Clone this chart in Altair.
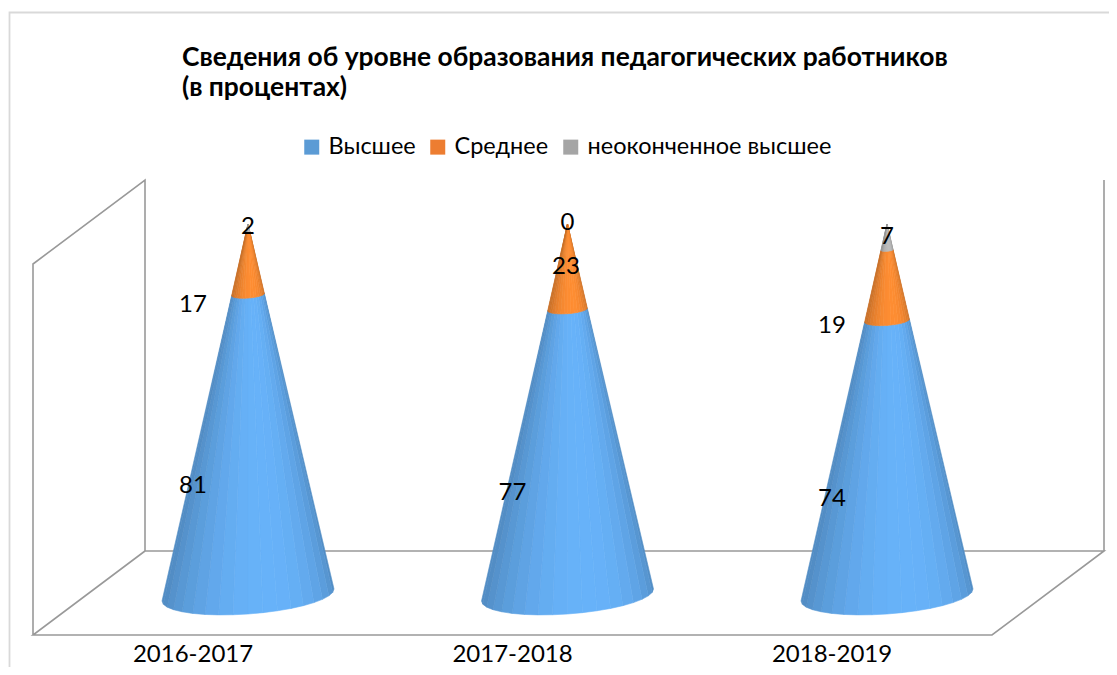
import math
import altair as alt
import pandas as pd

periods = ["2016-2017", "2017-2018", "2018-2019"]
series = ["Высшее", "Среднее", "неоконченное высшее"]
higher = [81, 77, 74]
secondary = [17, 23, 19]
incomplete = [2, 0, 7]
swatch = ["#5B9BD5", "#ED7D31", "#A5A5A5"]
lit = ["#68B3FA", "#FF8E33", "#BDBDBD"]

label_dx = [[-0.172, -0.172, 0.0], [-0.172, -0.005, 0.0], [-0.172, -0.172, 0.0]]
label_v = [[29.4, 78.2, 99.3], [27.6, 88.3, 100.3], [25.9, 72.5, 96.5]]

FONT = "Lato"
N = 18
PX_X, PX_Y = 319.5, 3.71
CX0, CY0 = 248.0, 595.0
W, H = 1101, 659


def dx(px):
    return (px - CX0) / PX_X


def dv(py):
    return (CY0 - py) / PX_Y


xs = alt.Scale(domain=[dx(8), dx(8 + W)], range=[0, W], nice=False, zero=False)
ys = alt.Scale(domain=[dv(8 + H), dv(8)], range=[H, 0], nice=False, zero=False)


def shade(hexcol, f):
    r, g, b = [int(hexcol[i:i + 2], 16) for i in (1, 3, 5)]
    return "#%02x%02x%02x" % (int(r * f), int(g * f), int(b * f))


def rim(i, level, theta):
    r = 1 - level / 100.0
    return (
        i + r * (86 / PX_X) * math.cos(theta),
        level + r * (6 * math.cos(theta) - 19 * math.sin(theta)) / PX_Y,
    )


rows = []
sid = 0
for i in range(3):
    levels = [0, higher[i], higher[i] + secondary[i], higher[i] + secondary[i] + incomplete[i]]
    for s in range(3):
        if levels[s + 1] == levels[s]:
            continue
        for k in range(N):
            a0 = math.pi * k / N
            a1 = math.pi * (k + 1) / N
            mid = (a0 + a1) / 2
            lo = 0.72 if math.cos(mid) > 0 else 0.79
            f = lo + (1 - lo) * max(0.0, math.cos(mid - math.pi * 0.42)) ** 1.2
            col = shade(lit[s], f)
            corners = [rim(i, levels[s], a0), rim(i, levels[s], a1), rim(i, levels[s + 1], a1), rim(i, levels[s + 1], a0)]
            for o, (x, y) in enumerate(corners):
                rows.append({"x": x, "y": y, "o": o, "id": sid, "c": col})
            sid += 1
cones = pd.DataFrame(rows)

cone_layer = alt.Chart(cones).mark_line(strokeWidth=0.6, interpolate="linear-closed").encode(
    x=alt.X("x:Q", scale=xs, axis=None),
    y=alt.Y("y:Q", scale=ys, axis=None),
    order="o:Q",
    detail="id:N",
    color=alt.Color("c:N", scale=None),
    fill=alt.Fill("c:N", scale=None),
)

# wall and floor outline
frame_paths = [
    [(33, 635), (33, 264), (145, 180), (145, 551), (33, 635), (992, 635), (1104, 551), (145, 551)],
    [(1104, 551), (1104, 180)],
]
rows = []
for n, p in enumerate(frame_paths):
    for o, (a, b) in enumerate(p):
        rows.append({"x": dx(a), "y": dv(b), "o": o, "id": n})
frame = alt.Chart(pd.DataFrame(rows)).mark_line(color="#999999", strokeWidth=1.6).encode(
    x=alt.X("x:Q", scale=xs, axis=None),
    y=alt.Y("y:Q", scale=ys, axis=None),
    order="o:Q",
    detail="id:N",
)

border_rows = [
    {"x": dx(9.5), "y": dv(667), "o": 0},
    {"x": dx(9.5), "y": dv(12.5), "o": 1},
    {"x": dx(1109), "y": dv(12.5), "o": 2},
]
border = alt.Chart(pd.DataFrame(border_rows)).mark_line(color="#D9D9D9", strokeWidth=1.8).encode(
    x=alt.X("x:Q", scale=xs, axis=None),
    y=alt.Y("y:Q", scale=ys, axis=None),
    order="o:Q",
)

rows = []
for i in range(3):
    vals = [higher[i], secondary[i], incomplete[i]]
    for s in range(3):
        rows.append({"x": i + label_dx[i][s], "y": label_v[i][s], "t": str(vals[s])})
labels = alt.Chart(pd.DataFrame(rows)).mark_text(fontSize=24, font=FONT, color="#000000").encode(
    x=alt.X("x:Q", scale=xs, axis=None),
    y=alt.Y("y:Q", scale=ys, axis=None),
    text="t:N",
)

cats = alt.Chart(pd.DataFrame({"x": [-0.172, 0.828, 1.828], "y": [dv(655)] * 3, "t": periods})).mark_text(
    fontSize=24, font=FONT, color="#000000"
).encode(
    x=alt.X("x:Q", scale=xs, axis=None),
    y=alt.Y("y:Q", scale=ys, axis=None),
    text="t:N",
)

title_lines = ["Сведения об уровне образования педагогических работников", "(в процентах)"]
title = alt.Chart(pd.DataFrame({"t": title_lines, "x": [dx(182)] * 2, "y": [dv(58), dv(88)]})).mark_text(
    fontSize=26.4, font=FONT, fontWeight="bold", align="left", color="#000000"
).encode(
    x=alt.X("x:Q", scale=xs, axis=None),
    y=alt.Y("y:Q", scale=ys, axis=None),
    text="t:N",
)

legend_src = alt.Chart(pd.DataFrame({"s": series, "x": [0, 1, 2], "y": [10, 10, 10]})).mark_square(opacity=0, size=225).encode(
    x=alt.X("x:Q", scale=xs, axis=None),
    y=alt.Y("y:Q", scale=ys, axis=None),
    color=alt.Color(
        "s:N",
        scale=alt.Scale(domain=series, range=swatch),
        legend=alt.Legend(
            title=None,
            orient="none",
            legendX=292,
            legendY=127,
            direction="horizontal",
            columns=3,
            symbolType="square",
            symbolSize=225,
            symbolOpacity=1,
            symbolStrokeWidth=0,
            labelFont=FONT,
            labelFontSize=23.5,
            labelColor="#000000",
            labelOffset=5,
            columnPadding=10,
            labelLimit=400,
            padding=0,
        ),
    ),
)

chart = (
    alt.layer(border, frame, cone_layer, labels, cats, title, legend_src)
    .resolve_scale(color="independent")
    .properties(
        width=W,
        height=H,
        padding=0,
        background="#FFFFFF",
        autosize=alt.AutoSizeParams(type="none"),
    )
    .configure_view(stroke=None)
)
chart.save("out.html", embed_options={"renderer": "svg", "actions": False})
